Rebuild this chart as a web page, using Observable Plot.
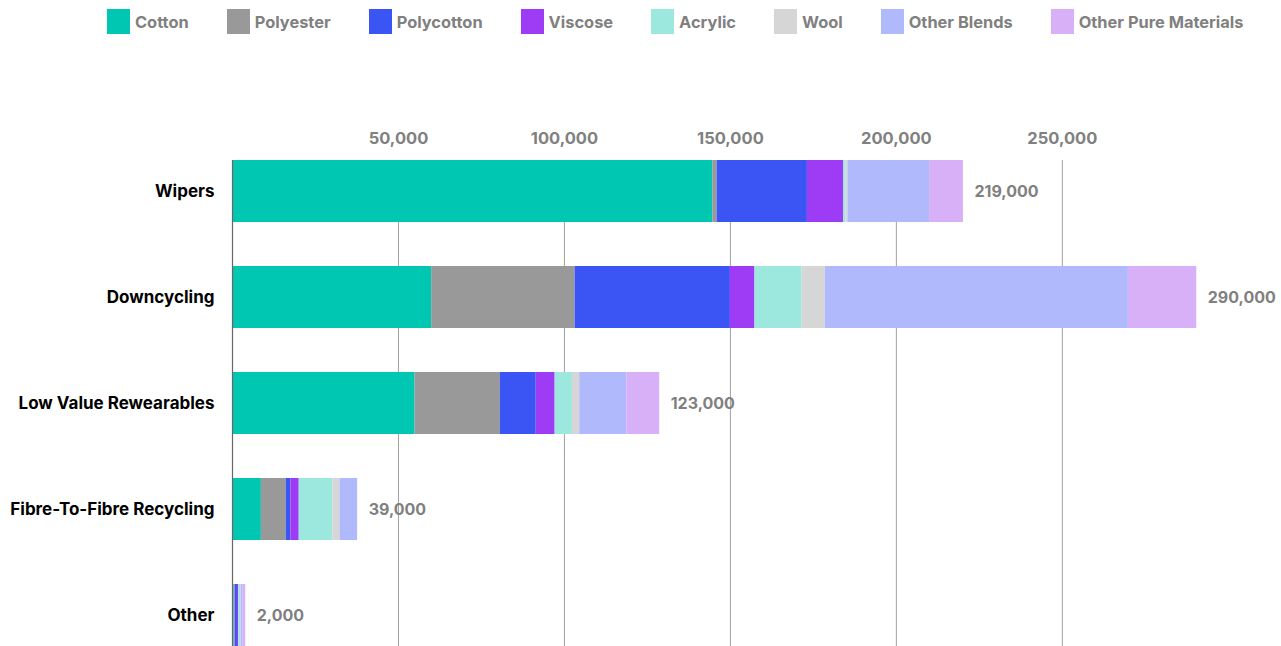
<!DOCTYPE html>
<html>
<head>
<meta charset="utf-8">
<script src="https://cdn.jsdelivr.net/npm/d3@7"></script>
<script src="https://cdn.jsdelivr.net/npm/@observablehq/plot@0.6"></script>
<style>
  html, body { margin: 0; padding: 0; background: #fff; overflow: hidden; }
  #wrap { position: relative; width: 1281px; height: 646px; }
  #legend { position: absolute; top: 9px; left: 107px; display: flex; gap: 38px;
    font-family: Inter, "Noto Sans", sans-serif; font-weight: 700; font-size: 16.4px; color: #808080; }
  .item { display: flex; align-items: center; gap: 5px; }
  .sw { width: 23px; height: 25px; display: inline-block; }
  #chart { position: absolute; top: 0; left: 0; }
</style>
</head>
<body>
<div id="wrap">
  <div id="chart"></div>
  <div id="legend"></div>
</div>
<script>
const categories = ["Wipers", "Downcycling", "Low Value Rewearables", "Fibre-To-Fibre Recycling", "Other"];
const materials = ["Cotton", "Polyester", "Polycotton", "Viscose", "Acrylic", "Wool", "Other Blends", "Other Pure Materials"];
const colors = ["#00C7B2", "#999999", "#3B55F5", "#9D3BF5", "#9CE8DF", "#D6D6D6", "#AFB9FB", "#D8B0F8"];

const cotton      = [144700, 60000, 55000, 8700, 500];
const polyester   = [1300, 43200, 25700, 7500, 300];
const polycotton  = [27200, 46800, 10800, 1400, 700];
const viscose     = [10900, 7400, 5700, 2500, 400];
const acrylic     = [700, 14200, 5200, 10100, 500];
const wool        = [600, 7000, 2200, 2200, 200];
const otherBlends = [24600, 91300, 14200, 5300, 600];
const otherPure   = [10200, 20600, 9900, 0, 800];
const totalLabels = ["219,000", "290,000", "123,000", "39,000", "2,000"];
const xTicks = [50000, 100000, 150000, 200000, 250000];
const xTickLabels = ["50,000", "100,000", "150,000", "200,000", "250,000"];

const series = [cotton, polyester, polycotton, viscose, acrylic, wool, otherBlends, otherPure];
const rows = [];
categories.forEach((c, i) => {
  materials.forEach((m, j) => rows.push({category: c, material: m, value: series[j][i]}));
});
const totals = categories.map((c, i) => ({
  category: c,
  sum: d3.sum(series, s => s[i]),
  label: totalLabels[i]
}));
const ticks = xTicks.map((v, i) => ({v, label: xTickLabels[i]}));

const chart = Plot.plot({
  width: 1281,
  height: 690,
  marginLeft: 232,
  marginRight: 20,
  marginTop: 116,
  marginBottom: 0,
  style: {fontFamily: "Inter, 'Noto Sans', sans-serif", fontWeight: 700, fontSize: "16px", color: "#000", background: "transparent"},
  x: {domain: [0, 310000], axis: null},
  y: {domain: categories, padding: 0.415, label: null},
  color: {domain: materials, range: colors},
  marks: [
    Plot.ruleX(ticks, {x: "v", insetTop: 44, stroke: "#a0a0a0", strokeWidth: 1}),
    Plot.barX(rows, Plot.stackX({x: "value", y: "category", fill: "material"})),
    Plot.ruleX([0], {insetTop: 44, stroke: "#666", strokeWidth: 1.2}),
    Plot.text(ticks, {x: "v", text: "label", frameAnchor: "top", dy: 16, fill: "#808080", fontSize: 16.5, fontWeight: 700}),
    Plot.text(totals, {x: "sum", y: "category", text: "label", dx: 11, textAnchor: "start", fill: "#808080", fontSize: 16, fontWeight: 700}),
    Plot.axisY({tickSize: 0, tickPadding: 18, fontSize: 17, fontWeight: 700, fill: "#000", label: null})
  ]
});
document.getElementById("chart").appendChild(chart);

const legend = document.getElementById("legend");
materials.forEach((m, i) => {
  const it = document.createElement("div");
  it.className = "item";
  const sw = document.createElement("span");
  sw.className = "sw";
  sw.style.background = colors[i];
  const t = document.createElement("span");
  t.textContent = m;
  it.appendChild(sw);
  it.appendChild(t);
  legend.appendChild(it);
});
</script>
</body>
</html>
